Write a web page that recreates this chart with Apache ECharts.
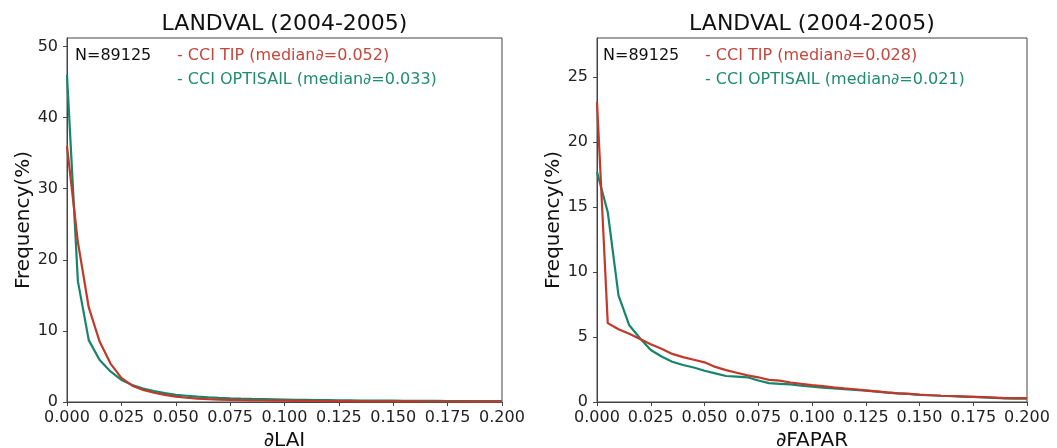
<!DOCTYPE html>
<html>
<head>
<meta charset="utf-8">
<script src="https://cdn.jsdelivr.net/npm/echarts@6/dist/echarts.min.js"></script>
<style>
  html, body { margin: 0; padding: 0; background: #fff; }
  #chart { width: 1057px; height: 448px; }
</style>
</head>
<body>
<div id="chart"></div>
<script>
// Bin positions of the difference histograms
const bins = [0.000, 0.005, 0.010, 0.015, 0.020, 0.025, 0.030, 0.035, 0.040, 0.045,
              0.050, 0.055, 0.060, 0.065, 0.070, 0.075, 0.080, 0.085, 0.090, 0.095,
              0.100, 0.105, 0.110, 0.115, 0.120, 0.125, 0.130, 0.135, 0.140, 0.145,
              0.150, 0.155, 0.160, 0.165, 0.170, 0.175, 0.180, 0.185, 0.190, 0.195, 0.200];

// LAI difference frequencies (%)
const laiTip = [36.0, 22.5, 13.3, 8.5, 5.4, 3.4, 2.3, 1.7, 1.3, 1.0,
                0.75, 0.6, 0.48, 0.4, 0.34, 0.3, 0.26, 0.23, 0.21, 0.19,
                0.18, 0.16, 0.15, 0.14, 0.13, 0.12, 0.11, 0.1, 0.1, 0.09,
                0.09, 0.08, 0.08, 0.07, 0.07, 0.07, 0.06, 0.06, 0.06, 0.06, 0.06];
const laiOpti = [46.0, 17.0, 8.7, 5.9, 4.3, 3.1, 2.4, 1.9, 1.55, 1.25,
                 1.0, 0.88, 0.76, 0.66, 0.58, 0.52, 0.47, 0.43, 0.4, 0.37,
                 0.34, 0.31, 0.29, 0.27, 0.25, 0.23, 0.22, 0.21, 0.2, 0.19,
                 0.18, 0.17, 0.16, 0.15, 0.15, 0.14, 0.14, 0.13, 0.13, 0.12, 0.12];

// FAPAR difference frequencies (%)
const faparTip = [23.1, 6.07, 5.6, 5.25, 4.85, 4.45, 4.1, 3.7, 3.45, 3.25,
                  3.05, 2.7, 2.45, 2.25, 2.05, 1.9, 1.7, 1.65, 1.5, 1.4,
                  1.3, 1.22, 1.13, 1.05, 0.98, 0.9, 0.82, 0.74, 0.67, 0.62,
                  0.56, 0.52, 0.48, 0.46, 0.43, 0.4, 0.37, 0.34, 0.3, 0.3, 0.3];
const faparOpti = [17.7, 14.6, 8.2, 5.9, 4.9, 4.0, 3.5, 3.1, 2.85, 2.65,
                   2.4, 2.2, 2.0, 1.95, 1.9, 1.65, 1.45, 1.4, 1.35, 1.25,
                   1.18, 1.1, 1.05, 0.98, 0.93, 0.88, 0.8, 0.72, 0.67, 0.62,
                   0.55, 0.52, 0.48, 0.45, 0.42, 0.4, 0.36, 0.32, 0.27, 0.25, 0.25];

// Tick values
const xTicks = [0, 0.025, 0.05, 0.075, 0.1, 0.125, 0.15, 0.175, 0.2];
const yTicksLai = [0, 10, 20, 30, 40, 50];
const yTicksFapar = [0, 5, 10, 15, 20, 25];

// Titles and annotation texts
const panelTitle = 'LANDVAL (2004-2005)';
const countText = 'N=89125';
const laiTipText = '- CCI TIP (median\u2202=0.052)';
const laiOptiText = '- CCI OPTISAIL (median\u2202=0.033)';
const faparTipText = '- CCI TIP (median\u2202=0.028)';
const faparOptiText = '- CCI OPTISAIL (median\u2202=0.021)';

const FONT = 'DejaVu Sans';
const RED = '#c0392b';
const GREEN = '#15866a';
const RED_TEXT = '#c4463c';
const GREEN_TEXT = '#1f8c6e';
const AXIS = '#444';

const pairs = (ys) => bins.map((x, i) => [x, ys[i]]);

function xAxisFor(gridIndex, name) {
  return {
    type: 'value', gridIndex, min: 0, max: 0.2, name,
    nameLocation: 'middle', nameGap: 27,
    nameTextStyle: { fontFamily: FONT, fontSize: 20, color: '#111' },
    axisLine: { show: true, lineStyle: { color: AXIS, width: 1 } },
    axisTick: { show: true, length: 4, lineStyle: { color: AXIS }, customValues: xTicks },
    axisLabel: { fontFamily: FONT, fontSize: 16, color: '#222', margin: 8,
                 customValues: xTicks, formatter: v => v.toFixed(3) },
    splitLine: { show: false }
  };
}
function yAxisFor(gridIndex, max, ticks) {
  return {
    type: 'value', gridIndex, min: 0, max, name: 'Frequency(%)',
    nameLocation: 'middle', nameGap: 32,
    nameTextStyle: { fontFamily: FONT, fontSize: 20, color: '#111' },
    axisLine: { show: true, lineStyle: { color: AXIS, width: 1 } },
    axisTick: { show: true, length: 4, lineStyle: { color: AXIS }, customValues: ticks },
    axisLabel: { fontFamily: FONT, fontSize: 16, color: '#222', margin: 9, customValues: ticks },
    splitLine: { show: false }
  };
}
function line(xi, data, color) {
  return {
    type: 'line', xAxisIndex: xi, yAxisIndex: xi, data, showSymbol: false,
    symbol: 'none', lineStyle: { color, width: 2.2 }, itemStyle: { color },
    silent: true, animation: false
  };
}
function text(x, y, str, color, size, align) {
  return {
    type: 'text', x, y, silent: true,
    style: { text: str, fill: color, fontFamily: FONT, fontSize: size,
             align: align || 'left', verticalAlign: 'top' }
  };
}

const grids = [
  { left: 67, top: 38, width: 435, height: 364 },
  { left: 597, top: 38, width: 430, height: 364 }
];

const chart = echarts.init(document.getElementById('chart'), null, { renderer: 'canvas' });
chart.setOption({
  animation: false,
  backgroundColor: '#fff',
  grid: grids.map(g => Object.assign({ show: true, borderColor: AXIS, borderWidth: 1,
                                        backgroundColor: 'transparent',
                                        containLabel: false, outerBoundsMode: 'none' }, g)),
  xAxis: [xAxisFor(0, '\u2202LAI'), xAxisFor(1, '\u2202FAPAR')],
  yAxis: [yAxisFor(0, 51.2, yTicksLai), yAxisFor(1, 28, yTicksFapar)],
  series: [
    line(0, pairs(laiOpti), GREEN),
    line(0, pairs(laiTip), RED),
    line(1, pairs(faparOpti), GREEN),
    line(1, pairs(faparTip), RED)
  ],
  graphic: [
    text(284.5, 13, panelTitle, '#111', 22, 'center'),
    text(812, 13, panelTitle, '#111', 22, 'center'),
    text(75, 48, countText, '#111', 16),
    text(177, 48, laiTipText, RED_TEXT, 16),
    text(177, 72, laiOptiText, GREEN_TEXT, 16),
    text(603, 48, countText, '#111', 16),
    text(705, 48, faparTipText, RED_TEXT, 16),
    text(705, 72, faparOptiText, GREEN_TEXT, 16)
  ]
});
</script>
</body>
</html>
